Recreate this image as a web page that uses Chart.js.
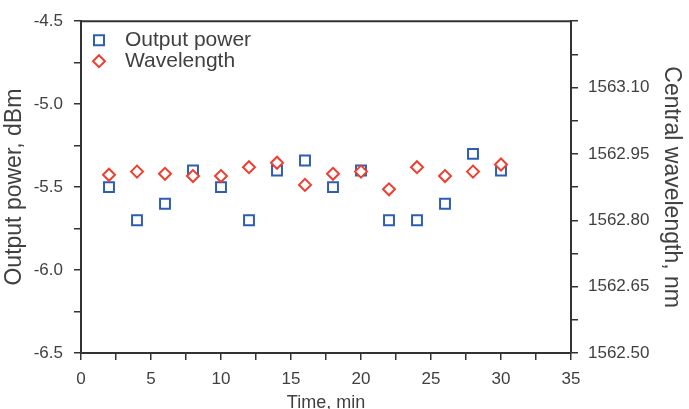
<!DOCTYPE html>
<html>
<head>
<meta charset="utf-8">
<script src="https://cdn.jsdelivr.net/npm/chart.js"></script>
<style>
  html, body { margin: 0; padding: 0; background: #fff; }
  #wrap { width: 689px; height: 409px; }
</style>
</head>
<body>
<div id="wrap"><canvas id="chart" width="689" height="409"></canvas></div>
<script>
// values
const timeMin = [2, 4, 6, 8, 10, 12, 14, 16, 18, 20, 22, 24, 26, 28, 30];
const outputPower = [-5.5, -5.7, -5.6, -5.4, -5.5, -5.7, -5.4, -5.34, -5.5, -5.4, -5.7, -5.7, -5.6, -5.3, -5.4];
const wavelength = [1562.903, 1562.91, 1562.905, 1562.90, 1562.90, 1562.92, 1562.93, 1562.88,
                    1562.905, 1562.91, 1562.87, 1562.92, 1562.90, 1562.91, 1562.926];

// tick labels (bottom to top / left to right)
const timeTicks = ['0', '5', '10', '15', '20', '25', '30', '35'];
const powerTicks = ['-6.5', '-6.0', '-5.5', '-5.0', '-4.5'];
const wavelengthTicks = ['1562.50', '1562.65', '1562.80', '1562.95', '1563.10'];

const TEXT = '#404040';
const AXIS = '#333';
const BLUE = '#2f5db3';
const RED = '#ee3e2e';
const FONT = "'Liberation Sans', Arial, sans-serif";

// major ticks plus one minor tick between each pair
function halfSteps(min, max, n) {
  const out = [];
  for (let i = 0; i <= n; i++) out.push({ value: min + (max - min) * i / n });
  return out;
}

const topBorder = {
  id: 'topBorder',
  afterDraw(chart) {
    const { ctx, chartArea } = chart;
    ctx.save();
    ctx.strokeStyle = AXIS;
    ctx.lineWidth = 2;
    ctx.beginPath();
    ctx.moveTo(chartArea.left - 1, chartArea.top);
    ctx.lineTo(chartArea.right + 1, chartArea.top);
    ctx.stroke();
    ctx.restore();
  }
};

// legend sits inside the plot, top left
const insideLegend = {
  id: 'insideLegend',
  afterDraw(chart) {
    const ctx = chart.ctx;
    const x = chart.chartArea.left + 18;
    let y = chart.chartArea.top + 19;
    ctx.save();
    ctx.font = '21px ' + FONT;
    ctx.textBaseline = 'middle';
    chart.data.datasets.forEach(ds => {
      ctx.strokeStyle = ds.borderColor;
      ctx.lineWidth = 2;
      ctx.beginPath();
      if (ds.pointStyle === 'rect') {
        ctx.rect(x - 5, y - 5, 10, 10);
      } else {
        ctx.moveTo(x, y - 6); ctx.lineTo(x + 6, y); ctx.lineTo(x, y + 6); ctx.lineTo(x - 6, y); ctx.closePath();
      }
      ctx.stroke();
      ctx.fillStyle = TEXT;
      ctx.fillText(ds.label, x + 26, y);
      y += 21;
    });
    ctx.restore();
  }
};

new Chart(document.getElementById('chart'), {
  type: 'scatter',
  data: {
    labels: timeMin,
    datasets: [
      {
        label: 'Output power',
        data: timeMin.map((t, i) => ({ x: t, y: outputPower[i] })),
        yAxisID: 'y',
        pointStyle: 'rect',
        pointRadius: 7,
        pointBorderWidth: 2,
        borderColor: BLUE,
        backgroundColor: 'rgba(0,0,0,0)',
        order: 1
      },
      {
        label: 'Wavelength',
        data: timeMin.map((t, i) => ({ x: t, y: wavelength[i] })),
        yAxisID: 'y2',
        pointStyle: 'rectRot',
        pointRadius: 6,
        pointBorderWidth: 2,
        borderColor: RED,
        backgroundColor: '#fff',
        order: 0
      }
    ]
  },
  options: {
    responsive: false,
    animation: false,
    devicePixelRatio: 1,
    layout: { padding: { top: 15, left: 0, right: 0, bottom: 0 } },
    plugins: { legend: { display: false }, tooltip: { enabled: false } },
    scales: {
      x: {
        type: 'linear',
        min: 0, max: 35,
        afterBuildTicks: s => { s.ticks = halfSteps(0, 35, 14); },
        afterFit: s => { s.height = 56; },
        ticks: {
          autoSkip: false, maxRotation: 0, padding: 9,
          color: TEXT, font: { family: FONT, size: 17 },
          callback: (v, i) => i % 2 === 0 ? timeTicks[i / 2] : ''
        },
        grid: { drawOnChartArea: false, tickLength: 7, color: AXIS, lineWidth: 1.5 },
        border: { color: AXIS, width: 2 },
        title: {
          display: true, text: 'Time, min', color: TEXT,
          font: { family: FONT, size: 18, lineHeight: 0.7 }, padding: 0
        }
      },
      y: {
        position: 'left',
        min: -6.5, max: -4.5,
        afterBuildTicks: s => { s.ticks = halfSteps(-6.5, -4.5, 8); },
        afterFit: s => { s.width = 81; },
        ticks: {
          autoSkip: false, padding: 11,
          color: TEXT, font: { family: FONT, size: 17 },
          callback: (v, i) => i % 2 === 0 ? powerTicks[i / 2] : ''
        },
        grid: { drawOnChartArea: false, tickLength: 7, color: AXIS, lineWidth: 1.5 },
        border: { color: AXIS, width: 2 },
        title: {
          display: true, text: 'Output power, dBm', color: TEXT,
          font: { family: FONT, size: 23 }, padding: { top: 1, bottom: 0 }
        }
      },
      y2: {
        position: 'right',
        min: 1562.5, max: 1563.25,
        afterBuildTicks: s => { s.ticks = halfSteps(1562.5, 1563.25, 10); },
        afterFit: s => { s.width = 118; },
        ticks: {
          autoSkip: false, padding: 10,
          color: TEXT, font: { family: FONT, size: 17 },
          callback: (v, i) => (i % 2 === 0 && wavelengthTicks[i / 2]) ? wavelengthTicks[i / 2] : ''
        },
        grid: { drawOnChartArea: false, tickLength: 7, color: AXIS, lineWidth: 1.5 },
        border: { color: AXIS, width: 2 },
        title: {
          display: true, text: 'Central wavelength, nm', color: TEXT,
          font: { family: FONT, size: 23 }, padding: { top: 4, bottom: 0 }
        }
      }
    }
  },
  plugins: [topBorder, insideLegend]
});
</script>
</body>
</html>
